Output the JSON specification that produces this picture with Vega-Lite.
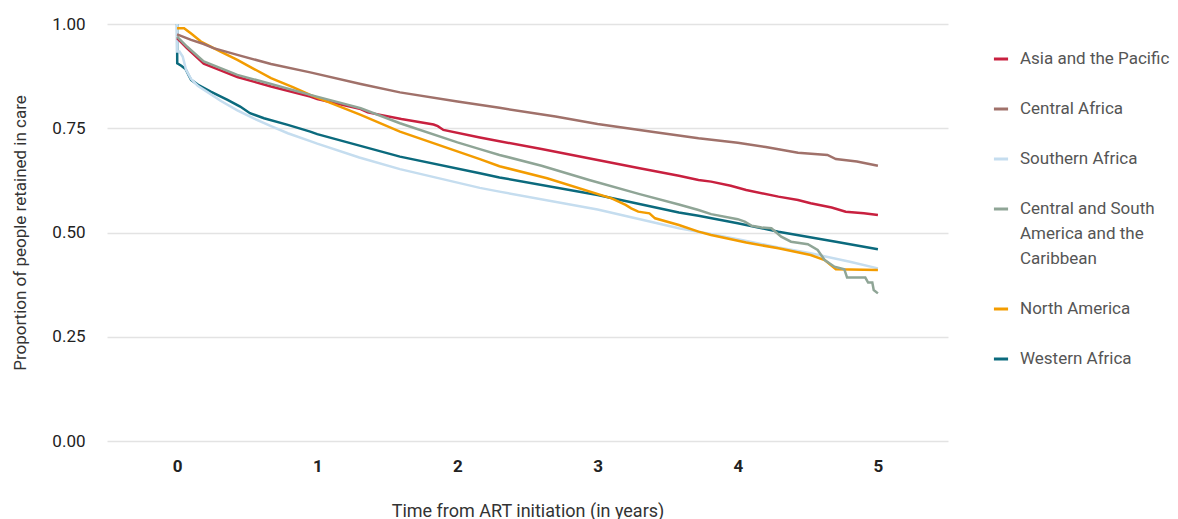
{
  "$schema": "https://vega.github.io/schema/vega-lite/v6.json",
  "width": 841,
  "height": 417,
  "autosize": {"type": "none"},
  "padding": {"left": 107, "top": 24, "right": 230, "bottom": 78},
  "background": "white",
  "config": {"view": {"stroke": null}, "font": "Roboto", "style": {"guide-label": {"lineHeight": 25}}},
  "data": {"values": [
    {"region":"Western Africa","year":0,"retained":1.0},
    {"region":"Western Africa","year":0.001,"retained":0.906},
    {"region":"Western Africa","year":0.03,"retained":0.9},
    {"region":"Western Africa","year":0.06,"retained":0.892},
    {"region":"Western Africa","year":0.087,"retained":0.874},
    {"region":"Western Africa","year":0.1,"retained":0.866},
    {"region":"Western Africa","year":0.15,"retained":0.854},
    {"region":"Western Africa","year":0.24,"retained":0.838},
    {"region":"Western Africa","year":0.36,"retained":0.818},
    {"region":"Western Africa","year":0.45,"retained":0.802},
    {"region":"Western Africa","year":0.52,"retained":0.786},
    {"region":"Western Africa","year":0.62,"retained":0.774},
    {"region":"Western Africa","year":0.79,"retained":0.758},
    {"region":"Western Africa","year":0.95,"retained":0.742},
    {"region":"Western Africa","year":1.0,"retained":0.736},
    {"region":"Western Africa","year":1.59,"retained":0.682},
    {"region":"Western Africa","year":2.16,"retained":0.642},
    {"region":"Western Africa","year":2.3,"retained":0.632},
    {"region":"Western Africa","year":3.0,"retained":0.59},
    {"region":"Western Africa","year":3.58,"retained":0.548},
    {"region":"Western Africa","year":3.72,"retained":0.54},
    {"region":"Western Africa","year":4.0,"retained":0.522},
    {"region":"Western Africa","year":4.29,"retained":0.502},
    {"region":"Western Africa","year":4.7,"retained":0.478},
    {"region":"Western Africa","year":5.0,"retained":0.46},

    {"region":"Southern Africa","year":0,"retained":1.0},
    {"region":"Southern Africa","year":0.001,"retained":0.934},
    {"region":"Southern Africa","year":0.017,"retained":0.934},
    {"region":"Southern Africa","year":0.04,"retained":0.922},
    {"region":"Southern Africa","year":0.064,"retained":0.89},
    {"region":"Southern Africa","year":0.1,"retained":0.868},
    {"region":"Southern Africa","year":0.147,"retained":0.852},
    {"region":"Southern Africa","year":0.22,"retained":0.836},
    {"region":"Southern Africa","year":0.31,"retained":0.816},
    {"region":"Southern Africa","year":0.43,"retained":0.793},
    {"region":"Southern Africa","year":0.55,"retained":0.773},
    {"region":"Southern Africa","year":0.67,"retained":0.755},
    {"region":"Southern Africa","year":0.79,"retained":0.738},
    {"region":"Southern Africa","year":0.95,"retained":0.719},
    {"region":"Southern Africa","year":1.0,"retained":0.713},
    {"region":"Southern Africa","year":1.3,"retained":0.68},
    {"region":"Southern Africa","year":1.59,"retained":0.652},
    {"region":"Southern Africa","year":2.16,"retained":0.607},
    {"region":"Southern Africa","year":2.3,"retained":0.598},
    {"region":"Southern Africa","year":3.0,"retained":0.555},
    {"region":"Southern Africa","year":3.58,"retained":0.51},
    {"region":"Southern Africa","year":3.72,"retained":0.502},
    {"region":"Southern Africa","year":4.0,"retained":0.484},
    {"region":"Southern Africa","year":4.29,"retained":0.464},
    {"region":"Southern Africa","year":4.52,"retained":0.45},
    {"region":"Southern Africa","year":4.8,"retained":0.43},
    {"region":"Southern Africa","year":5.0,"retained":0.414},

    {"region":"Asia and the Pacific","year":0,"retained":0.966},
    {"region":"Asia and the Pacific","year":0.07,"retained":0.942},
    {"region":"Asia and the Pacific","year":0.19,"retained":0.905},
    {"region":"Asia and the Pacific","year":0.31,"retained":0.889},
    {"region":"Asia and the Pacific","year":0.43,"retained":0.873},
    {"region":"Asia and the Pacific","year":0.67,"retained":0.85},
    {"region":"Asia and the Pacific","year":0.95,"retained":0.826},
    {"region":"Asia and the Pacific","year":1.0,"retained":0.82},
    {"region":"Asia and the Pacific","year":1.31,"retained":0.796},
    {"region":"Asia and the Pacific","year":1.36,"retained":0.788},
    {"region":"Asia and the Pacific","year":1.6,"retained":0.772},
    {"region":"Asia and the Pacific","year":1.83,"retained":0.759},
    {"region":"Asia and the Pacific","year":1.86,"retained":0.755},
    {"region":"Asia and the Pacific","year":1.9,"retained":0.746},
    {"region":"Asia and the Pacific","year":2.16,"retained":0.728},
    {"region":"Asia and the Pacific","year":2.3,"retained":0.719},
    {"region":"Asia and the Pacific","year":2.6,"retained":0.7},
    {"region":"Asia and the Pacific","year":3.0,"retained":0.674},
    {"region":"Asia and the Pacific","year":3.3,"retained":0.654},
    {"region":"Asia and the Pacific","year":3.58,"retained":0.636},
    {"region":"Asia and the Pacific","year":3.72,"retained":0.626},
    {"region":"Asia and the Pacific","year":3.81,"retained":0.622},
    {"region":"Asia and the Pacific","year":3.95,"retained":0.612},
    {"region":"Asia and the Pacific","year":4.06,"retained":0.602},
    {"region":"Asia and the Pacific","year":4.29,"retained":0.586},
    {"region":"Asia and the Pacific","year":4.43,"retained":0.578},
    {"region":"Asia and the Pacific","year":4.52,"retained":0.57},
    {"region":"Asia and the Pacific","year":4.67,"retained":0.56},
    {"region":"Asia and the Pacific","year":4.77,"retained":0.55},
    {"region":"Asia and the Pacific","year":4.9,"retained":0.546},
    {"region":"Asia and the Pacific","year":5.0,"retained":0.542},

    {"region":"North America","year":0,"retained":0.99},
    {"region":"North America","year":0.05,"retained":0.99},
    {"region":"North America","year":0.1,"retained":0.977},
    {"region":"North America","year":0.17,"retained":0.958},
    {"region":"North America","year":0.24,"retained":0.946},
    {"region":"North America","year":0.31,"retained":0.934},
    {"region":"North America","year":0.43,"retained":0.914},
    {"region":"North America","year":0.55,"retained":0.892},
    {"region":"North America","year":0.67,"retained":0.87},
    {"region":"North America","year":0.83,"retained":0.848},
    {"region":"North America","year":0.95,"retained":0.83},
    {"region":"North America","year":1.31,"retained":0.782},
    {"region":"North America","year":1.59,"retained":0.742},
    {"region":"North America","year":2.16,"retained":0.676},
    {"region":"North America","year":2.3,"retained":0.659},
    {"region":"North America","year":2.64,"retained":0.63},
    {"region":"North America","year":3.1,"retained":0.582},
    {"region":"North America","year":3.2,"retained":0.566},
    {"region":"North America","year":3.24,"retained":0.558},
    {"region":"North America","year":3.29,"retained":0.55},
    {"region":"North America","year":3.37,"retained":0.546},
    {"region":"North America","year":3.41,"retained":0.534},
    {"region":"North America","year":3.58,"retained":0.518},
    {"region":"North America","year":3.72,"retained":0.502},
    {"region":"North America","year":3.81,"retained":0.494},
    {"region":"North America","year":4.06,"retained":0.476},
    {"region":"North America","year":4.29,"retained":0.462},
    {"region":"North America","year":4.52,"retained":0.446},
    {"region":"North America","year":4.62,"retained":0.434},
    {"region":"North America","year":4.7,"retained":0.412},
    {"region":"North America","year":5.0,"retained":0.41},

    {"region":"Central and South America and the Caribbean","year":0,"retained":0.97},
    {"region":"Central and South America and the Caribbean","year":0.07,"retained":0.946},
    {"region":"Central and South America and the Caribbean","year":0.19,"retained":0.91},
    {"region":"Central and South America and the Caribbean","year":0.31,"retained":0.894},
    {"region":"Central and South America and the Caribbean","year":0.43,"retained":0.878},
    {"region":"Central and South America and the Caribbean","year":0.67,"retained":0.856},
    {"region":"Central and South America and the Caribbean","year":0.95,"retained":0.83},
    {"region":"Central and South America and the Caribbean","year":1.31,"retained":0.798},
    {"region":"Central and South America and the Caribbean","year":1.59,"retained":0.762},
    {"region":"Central and South America and the Caribbean","year":2.0,"retained":0.716},
    {"region":"Central and South America and the Caribbean","year":2.16,"retained":0.7},
    {"region":"Central and South America and the Caribbean","year":2.3,"retained":0.686},
    {"region":"Central and South America and the Caribbean","year":2.6,"retained":0.66},
    {"region":"Central and South America and the Caribbean","year":2.94,"retained":0.626},
    {"region":"Central and South America and the Caribbean","year":3.3,"retained":0.592},
    {"region":"Central and South America and the Caribbean","year":3.58,"retained":0.567},
    {"region":"Central and South America and the Caribbean","year":3.72,"retained":0.554},
    {"region":"Central and South America and the Caribbean","year":3.81,"retained":0.544},
    {"region":"Central and South America and the Caribbean","year":4.0,"retained":0.532},
    {"region":"Central and South America and the Caribbean","year":4.05,"retained":0.526},
    {"region":"Central and South America and the Caribbean","year":4.1,"retained":0.516},
    {"region":"Central and South America and the Caribbean","year":4.17,"retained":0.512},
    {"region":"Central and South America and the Caribbean","year":4.24,"retained":0.51},
    {"region":"Central and South America and the Caribbean","year":4.31,"retained":0.49},
    {"region":"Central and South America and the Caribbean","year":4.38,"retained":0.478},
    {"region":"Central and South America and the Caribbean","year":4.5,"retained":0.472},
    {"region":"Central and South America and the Caribbean","year":4.57,"retained":0.458},
    {"region":"Central and South America and the Caribbean","year":4.62,"retained":0.434},
    {"region":"Central and South America and the Caribbean","year":4.69,"retained":0.418},
    {"region":"Central and South America and the Caribbean","year":4.76,"retained":0.412},
    {"region":"Central and South America and the Caribbean","year":4.78,"retained":0.392},
    {"region":"Central and South America and the Caribbean","year":4.91,"retained":0.392},
    {"region":"Central and South America and the Caribbean","year":4.93,"retained":0.38},
    {"region":"Central and South America and the Caribbean","year":4.96,"retained":0.38},
    {"region":"Central and South America and the Caribbean","year":4.97,"retained":0.362},
    {"region":"Central and South America and the Caribbean","year":5.0,"retained":0.354},

    {"region":"Central Africa","year":0,"retained":0.975},
    {"region":"Central Africa","year":0.1,"retained":0.962},
    {"region":"Central Africa","year":0.19,"retained":0.952},
    {"region":"Central Africa","year":0.26,"retained":0.942},
    {"region":"Central Africa","year":0.43,"retained":0.926},
    {"region":"Central Africa","year":0.67,"retained":0.904},
    {"region":"Central Africa","year":0.95,"retained":0.884},
    {"region":"Central Africa","year":1.31,"retained":0.856},
    {"region":"Central Africa","year":1.59,"retained":0.836},
    {"region":"Central Africa","year":2.0,"retained":0.814},
    {"region":"Central Africa","year":2.3,"retained":0.799},
    {"region":"Central Africa","year":2.7,"retained":0.778},
    {"region":"Central Africa","year":3.0,"retained":0.76},
    {"region":"Central Africa","year":3.4,"retained":0.741},
    {"region":"Central Africa","year":3.72,"retained":0.726},
    {"region":"Central Africa","year":4.0,"retained":0.715},
    {"region":"Central Africa","year":4.2,"retained":0.705},
    {"region":"Central Africa","year":4.43,"retained":0.691},
    {"region":"Central Africa","year":4.64,"retained":0.686},
    {"region":"Central Africa","year":4.7,"retained":0.676},
    {"region":"Central Africa","year":4.85,"retained":0.67},
    {"region":"Central Africa","year":5.0,"retained":0.66}
  ]},
  "mark": {"type": "line", "strokeWidth": 2.5},
  "encoding": {
    "x": {
      "field": "year", "type": "quantitative",
      "scale": {"domain": [-0.5, 5.5], "nice": false, "zero": false},
      "axis": {
        "values": [0, 1, 2, 3, 4, 5], "format": "d", "grid": false, "domain": false, "ticks": false,
        "labelFontWeight": "bold", "labelFontSize": 17, "labelColor": "#222", "labelPadding": 17,
        "title": "Time from ART initiation (in years)", "titleFontSize": 18, "titleFontWeight": "normal",
        "titleColor": "#333", "titlePadding": 28
      }
    },
    "y": {
      "field": "retained", "type": "quantitative",
      "scale": {"domain": [0, 1], "nice": false},
      "axis": {
        "values": [0, 0.25, 0.5, 0.75, 1], "format": ".2f", "grid": true, "gridColor": "#e3e3e3", "gridWidth": 1.5,
        "domain": false, "ticks": false, "labelFontSize": 17, "labelColor": "#222", "labelPadding": 22,
        "title": "Proportion of people retained in care", "titleFontSize": 17, "titleFontWeight": "normal",
        "titleColor": "#333", "titlePadding": 22
      }
    },
    "color": {
      "field": "region", "type": "nominal",
      "scale": {
        "domain": ["Asia and the Pacific", "Central Africa", "Southern Africa", "Central and South America and the Caribbean", "North America", "Western Africa"],
        "range": ["#c8203f", "#a0716a", "#c5ddef", "#8fa596", "#f39c00", "#0b6a7d"]
      },
      "legend": {
        "orient": "none", "legendX": 885, "legendY": 26, "title": null,
        "symbolType": "stroke", "symbolStrokeWidth": 3, "symbolSize": 200,
        "labelFontSize": 17, "labelColor": "#555", "labelLimit": 300, "labelOffset": 10,
        "rowPadding": 33,
        "labelExpr": "datum.label == 'Central and South America and the Caribbean' ? ['Central and South', 'America and the', 'Caribbean'] : datum.label"
      }
    }
  }
}
